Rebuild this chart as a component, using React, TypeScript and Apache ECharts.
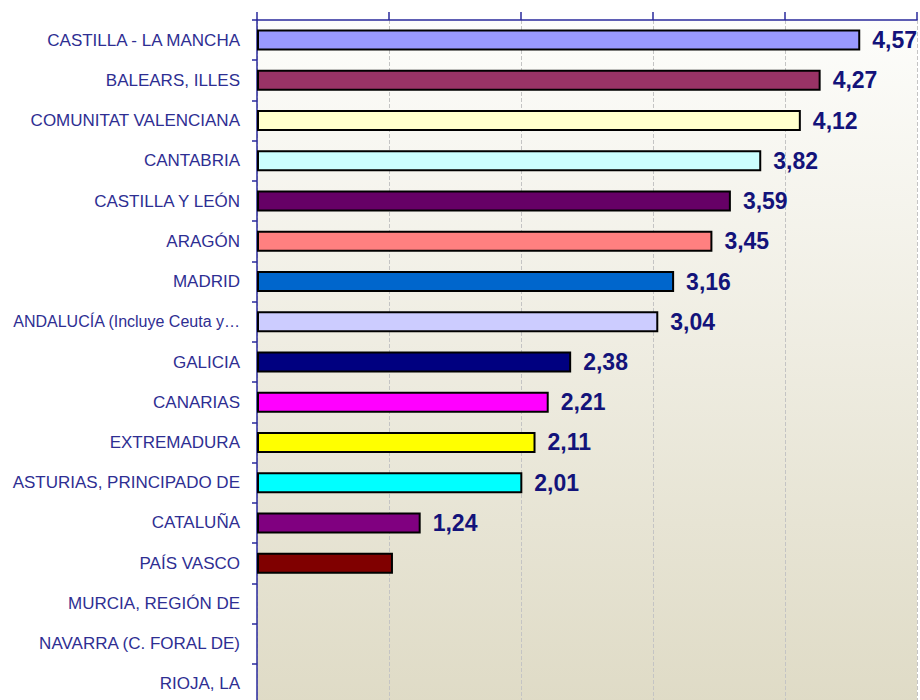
import React, { useEffect, useRef } from "react";
import * as echarts from "echarts";

const categories = [
  "CASTILLA - LA MANCHA",
  "BALEARS, ILLES",
  "COMUNITAT VALENCIANA",
  "CANTABRIA",
  "CASTILLA Y LEÓN",
  "ARAGÓN",
  "MADRID",
  "ANDALUCÍA (Incluye Ceuta y…",
  "GALICIA",
  "CANARIAS",
  "EXTREMADURA",
  "ASTURIAS, PRINCIPADO DE",
  "CATALUÑA",
  "PAÍS VASCO",
  "MURCIA, REGIÓN DE",
  "NAVARRA (C. FORAL DE)",
  "RIOJA, LA",
];

const values: (number | null)[] = [
  4.57, 4.27, 4.12, 3.82, 3.59, 3.45, 3.16, 3.04, 2.38, 2.21, 2.11, 2.01, 1.24, 1.03, null, null, null,
];

const showValueLabel = [
  true, true, true, true, true, true, true, true, true, true, true, true, true, false, false, false, false,
];

const barColors = [
  "#9999ff", "#993366", "#ffffcc", "#ccffff", "#660066", "#ff8080", "#0066cc", "#ccccff",
  "#000080", "#ff00ff", "#ffff00", "#00ffff", "#800080", "#800000", "#cccccc", "#cccccc", "#cccccc",
];

const FONT = "'Liberation Sans Narrow', 'Arial Narrow', 'Liberation Sans', sans-serif";

export default function App() {
  const ref = useRef<HTMLDivElement>(null);
  useEffect(() => {
    if (!ref.current) return;
    const chart = echarts.init(ref.current, null, { renderer: "svg" });
    const axisBlue = "#2a2a9c";
    chart.setOption({
      animation: false,
      backgroundColor: "#ffffff",
      grid: {
        left: 257,
        right: 3,
        top: 20,
        bottom: 0,
        show: true,
        borderWidth: 0,
        containLabel: false,
        outerBoundsMode: "none",
        backgroundColor: new echarts.graphic.LinearGradient(0, 0, 0, 1, [
          { offset: 0, color: "#fdfdfb" },
          { offset: 1, color: "#dfdbc6" },
        ]),
      },
      xAxis: {
        type: "value",
        position: "top",
        min: 0,
        max: 5,
        interval: 1,
        axisLine: { show: true, lineStyle: { color: axisBlue, width: 1.5 } },
        axisTick: { show: true, length: 8, lineStyle: { color: axisBlue, width: 1.5 } },
        axisLabel: { show: false },
        splitLine: { show: true, lineStyle: { color: "#c4c4c4", type: "dashed", width: 1 } },
      },
      yAxis: {
        type: "category",
        inverse: true,
        data: categories,
        axisLine: { show: true, lineStyle: { color: axisBlue, width: 1.5 } },
        axisTick: { show: true, length: 5, lineStyle: { color: axisBlue, width: 1.5 } },
        axisLabel: {
          color: "#2e2e92",
          fontFamily: FONT,
          fontSize: 17,
          margin: 17,
          formatter: (v: string) => (v.length > 24 ? `{s|${v}}` : v),
          rich: {
            s: { color: "#2e2e92", fontFamily: FONT, fontSize: 16 },
          },
        },
        splitLine: { show: false },
      },
      series: [
        {
          type: "bar",
          barWidth: 21,
          data: values.map((v, i) => ({
            value: v,
            itemStyle: { color: barColors[i], borderColor: "#000000", borderWidth: 2 },
            label: { show: showValueLabel[i] },
          })),
          label: {
            show: true,
            position: "right",
            distance: 12,
            color: "#13137a",
            fontFamily: FONT,
            fontWeight: "bold",
            fontSize: 23,
            formatter: (p: any) => (p.value == null ? "" : Number(p.value).toFixed(2).replace(".", ",")),
          },
        },
      ],
    });
    return () => chart.dispose();
  }, []);
  return (
    <div
      ref={ref}
      style={{ position: "fixed", left: 0, top: 0, width: 920, height: 704 }}
    />
  );
}
